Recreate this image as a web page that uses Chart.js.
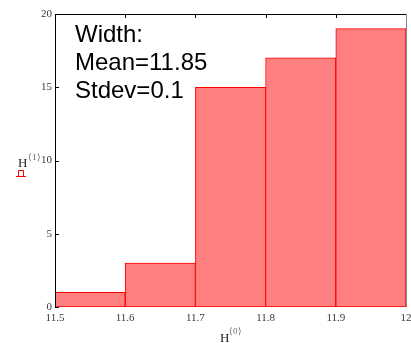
<!DOCTYPE html>
<html>
<head>
<meta charset="utf-8">
<script src="https://cdn.jsdelivr.net/npm/chart.js@4"></script>
<style>
  html, body { margin: 0; padding: 0; background: #fff; }
  #wrap { width: 411px; height: 343px; }
</style>
</head>
<body>
<div id="wrap"><canvas id="hist"></canvas></div>
<script>
// bin centres (H<0>) and counts (H<1>)
const binCenters = [11.55, 11.65, 11.75, 11.85, 11.95];
const counts = [1, 3, 15, 17, 19];
const xTicks = [11.5, 11.6, 11.7, 11.8, 11.9, 12];
const yTicks = [0, 5, 10, 15, 20];
const noteLines = ["Width:", "Mean=11.85", "Stdev=0.1"];

const TICK_FONT = { family: "'Liberation Serif', 'Times New Roman', serif", size: 11 };

/* frame, inward ticks, titles and the note */
const decor = {
  id: "decor",
  afterDraw(chart) {
    const ctx = chart.ctx;
    const a = chart.chartArea;
    const xs = chart.scales.x, ys = chart.scales.y;
    ctx.save();

    // frame
    ctx.lineWidth = 1;
    ctx.strokeStyle = "#000";
    ctx.beginPath();
    ctx.moveTo(a.left + 0.5, a.bottom);
    ctx.lineTo(a.left + 0.5, a.top + 0.5);
    ctx.lineTo(a.right, a.top + 0.5);
    ctx.stroke();
    ctx.strokeStyle = "#888";
    ctx.beginPath();
    ctx.moveTo(a.right + 0.5, a.top);
    ctx.lineTo(a.right + 0.5, a.bottom);
    ctx.stroke();

    // inward ticks
    ctx.strokeStyle = "#000";
    ctx.beginPath();
    yTicks.forEach(v => {
      const y = Math.round(ys.getPixelForValue(v)) + 0.5;
      ctx.moveTo(a.left, y);
      ctx.lineTo(a.left + 4, y);
    });
    xTicks.slice(1, -1).forEach(v => {
      const x = Math.round(xs.getPixelForValue(v)) + 0.5;
      ctx.moveTo(x, a.top);
      ctx.lineTo(x, a.top + 4);
    });
    ctx.stroke();

    // axis titles
    const serif = "'Liberation Serif', 'Times New Roman', serif";
    ctx.textBaseline = "alphabetic";
    ctx.textAlign = "left";
    ctx.fillStyle = "#222";
    ctx.font = "13px " + serif;
    ctx.fillText("H", 18, 167);
    ctx.fillText("H", 220, 342);
    ctx.fillStyle = "#666";
    ctx.font = "9px " + serif;
    ctx.fillText("\u27E81\u27E9", 28, 160);
    ctx.fillText("\u27E80\u27E9", 229, 334);

    // red placeholder mark under the y title
    ctx.strokeStyle = "#f00";
    ctx.beginPath();
    ctx.moveTo(16, 176.5); ctx.lineTo(26, 176.5);
    ctx.moveTo(18.5, 176); ctx.lineTo(18.5, 170.5);
    ctx.lineTo(23.5, 170.5); ctx.lineTo(23.5, 176);
    ctx.stroke();

    // note
    ctx.fillStyle = "#000";
    ctx.font = "24px 'Liberation Sans', Arial, sans-serif";
    noteLines.forEach((t, i) => ctx.fillText(t, 75, 42 + i * 28));

    ctx.restore();
  }
};

new Chart(document.getElementById("hist"), {
  type: "bar",
  data: {
    datasets: [{
      data: binCenters.map((c, i) => ({ x: c, y: counts[i] })),
      backgroundColor: "#ff8080",
      borderColor: "#ff0000",
      borderWidth: 1,
      borderSkipped: false,
      barPercentage: 1,
      categoryPercentage: 1,
    }],
  },
  options: {
    responsive: true,
    maintainAspectRatio: false,
    animation: false,
    events: [],
    layout: { padding: { left: 0, right: 5, top: 14, bottom: 0 } },
    plugins: { legend: { display: false }, tooltip: { enabled: false } },
    scales: {
      x: {
        type: "linear",
        min: 11.5,
        max: 12,
        offset: false,
        grid: { display: false, drawTicks: false },
        border: { display: false },
        afterFit: (s) => { s.height = 36; s.paddingLeft = 0; s.paddingRight = 0; },
        afterBuildTicks: (s) => { s.ticks = xTicks.map(v => ({ value: v })); },
        ticks: {
          padding: 5,
          maxRotation: 0,
          autoSkip: false,
          color: "#3a3a3a",
          font: TICK_FONT,
          callback: (v) => String(Number(v.toFixed(1))),
        },
      },
      y: {
        min: 0,
        max: 20,
        grid: { display: false, drawTicks: false },
        border: { display: false },
        afterFit: (s) => { s.width = 55; s.paddingTop = 0; s.paddingBottom = 0; },
        afterBuildTicks: (s) => { s.ticks = yTicks.map(v => ({ value: v })); },
        ticks: { padding: 3, color: "#3a3a3a", font: TICK_FONT },
      },
    },
  },
  plugins: [decor],
});
</script>
</body>
</html>
